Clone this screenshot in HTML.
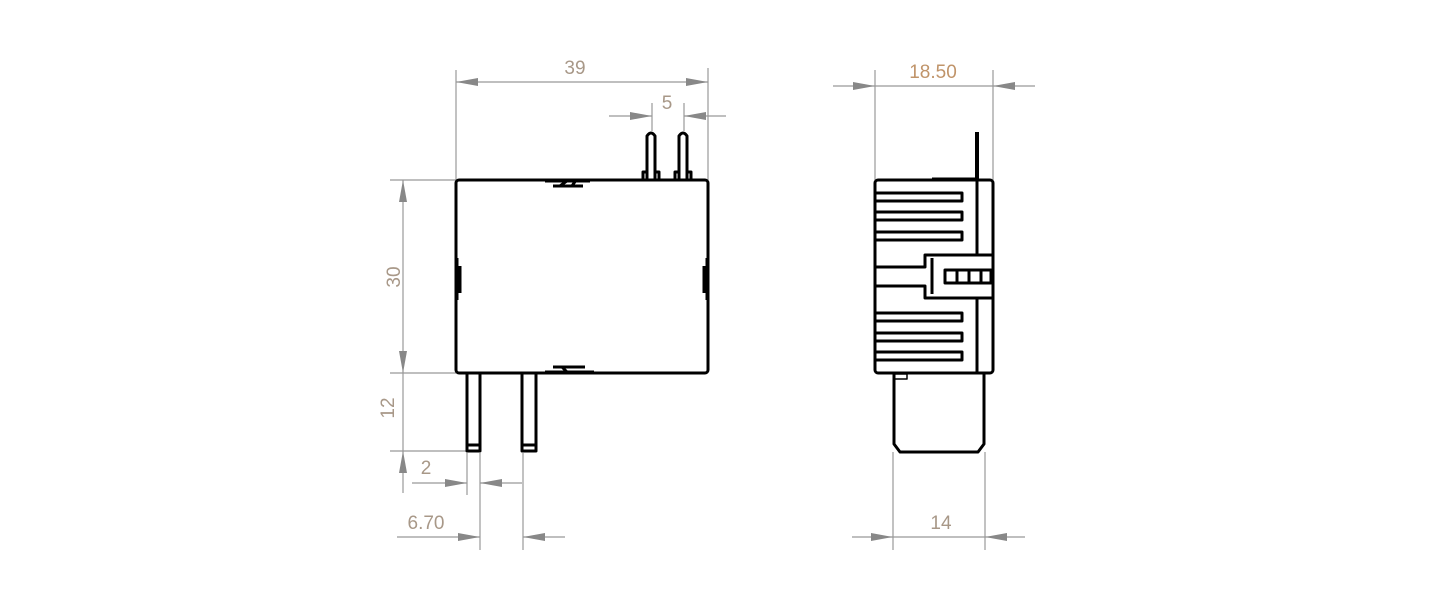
<!DOCTYPE html>
<html><head><meta charset="utf-8"><style>
html,body{margin:0;padding:0;background:#fff;width:1440px;height:600px;overflow:hidden}
svg{display:block}
text{font-family:"Liberation Sans",sans-serif;font-size:19px;fill:#a89888}
</style></head><body>
<svg width="1440" height="600" viewBox="0 0 1440 600" xmlns="http://www.w3.org/2000/svg">
<defs>
<marker id="a" viewBox="0 0 22 8" refX="22" refY="4" markerWidth="22" markerHeight="8" markerUnits="userSpaceOnUse" orient="auto"><path d="M0,0 L22,4 L0,8z" fill="#888"/></marker>
</defs>
<g stroke="#999" stroke-width="1.2" fill="none">
<!-- 39 -->
<line x1="456" y1="70" x2="456" y2="180"/><line x1="708" y1="68" x2="708" y2="180"/>
<line x1="480" y1="82" x2="456" y2="82" marker-end="url(#a)"/><line x1="480" y1="82" x2="708" y2="82" marker-end="url(#a)"/>
<!-- 5 -->
<line x1="652" y1="103" x2="652" y2="131"/><line x1="684" y1="103" x2="684" y2="131"/>
<line x1="609" y1="116" x2="652" y2="116" marker-end="url(#a)"/><line x1="726" y1="116" x2="684" y2="116" marker-end="url(#a)"/>
<!-- 30 -->
<line x1="390" y1="180" x2="456" y2="180"/><line x1="390" y1="373" x2="456" y2="373"/><line x1="390" y1="451" x2="467" y2="451"/>
<line x1="403" y1="280" x2="403" y2="180" marker-end="url(#a)"/><line x1="403" y1="280" x2="403" y2="373" marker-end="url(#a)"/>
<line x1="403" y1="373" x2="403" y2="373"/>
<line x1="403" y1="373" x2="403" y2="451"/>
<line x1="403" y1="493" x2="403" y2="451" marker-end="url(#a)"/>
<!-- 2 / 6.70 -->
<line x1="467" y1="453" x2="467" y2="495"/><line x1="480" y1="453" x2="480" y2="550"/><line x1="523" y1="453" x2="523" y2="550"/>
<line x1="412" y1="483" x2="467" y2="483" marker-end="url(#a)"/><line x1="522" y1="483" x2="480" y2="483" marker-end="url(#a)"/>
<line x1="397" y1="537" x2="480" y2="537" marker-end="url(#a)"/><line x1="565" y1="537" x2="523" y2="537" marker-end="url(#a)"/>
<!-- 18.50 -->
<line x1="875" y1="70" x2="875" y2="180"/><line x1="993" y1="70" x2="993" y2="180"/>
<line x1="833" y1="86" x2="875" y2="86" marker-end="url(#a)"/><line x1="1035" y1="86" x2="993" y2="86" marker-end="url(#a)"/>
<line x1="875" y1="86" x2="993" y2="86"/>
<!-- 14 -->
<line x1="893" y1="452" x2="893" y2="550"/><line x1="985" y1="452" x2="985" y2="550"/>
<line x1="852" y1="537" x2="893" y2="537" marker-end="url(#a)"/><line x1="1025" y1="537" x2="985" y2="537" marker-end="url(#a)"/>
<line x1="893" y1="537" x2="985" y2="537"/>
</g>
<text x="575" y="74" text-anchor="middle">39</text>
<text x="667" y="109" text-anchor="middle">5</text>
<text x="0" y="0" text-anchor="middle" transform="translate(400,277) rotate(-90)">30</text>
<text x="0" y="0" text-anchor="middle" transform="translate(394,408) rotate(-90)">12</text>
<text x="426" y="474" text-anchor="middle">2</text>
<text x="426" y="529" text-anchor="middle">6.70</text>
<text x="933" y="78" text-anchor="middle" style="fill:#c0946a">18.50</text>
<text x="941" y="529" text-anchor="middle">14</text>
<g stroke="#000" stroke-width="3" fill="none" stroke-linejoin="round">
<rect x="456" y="180" width="252" height="193" rx="3"/>
<!-- notches -->
<path d="M545,181 L590,181 M553,186 L583,186 M560,186 L568,180 M576,180 L572,186"/>
<path d="M545,372 L594,372 M553,367 L585,367 M562,367 L568,373"/>
<path d="M457,258 L457,300 M460,266 L460,293"/>
<path d="M707,258 L707,300 M704,266 L704,293"/>
<!-- top pins -->
<path d="M647,179 L647,136 Q651,130 655,136 L655,179 M643,180 L643,172 L647,172 M655,172 L659,172 L659,180"/>
<path d="M679,179 L679,136 Q683,130 687,136 L687,179 M675,180 L675,172 L679,172 M687,172 L691,172 L691,180"/>
<!-- bottom pins -->
<rect x="467" y="373" width="13" height="78"/><line x1="467" y1="445" x2="480" y2="445"/>
<rect x="522" y="373" width="14" height="78"/><line x1="522" y1="445" x2="536" y2="445"/>
<!-- side view -->
<rect x="875" y="180" width="118" height="193" rx="3"/>
<line x1="977" y1="180" x2="977" y2="255"/><line x1="977" y1="298" x2="977" y2="373"/>
<line x1="977" y1="132" x2="977" y2="180" stroke-width="4"/>
<line x1="932" y1="179" x2="977" y2="179"/>
<path d="M876,193 L962,193 L962,201 L876,201 M876,212 L962,212 L962,220 L876,220 M876,232 L962,232 L962,240 L876,240"/>
<path d="M876,313 L962,313 L962,321 L876,321 M876,333 L962,333 L962,341 L876,341 M876,352 L962,352 L962,360 L876,360"/>
<path d="M993,255 L925,255 L925,267 L876,267 M876,286 L925,286 L925,298 L993,298 M932,258 L932,294"/>
<rect x="945" y="270" width="46" height="13"/><line x1="957" y1="270" x2="957" y2="283"/><line x1="969" y1="270" x2="969" y2="283"/><line x1="981" y1="270" x2="981" y2="283"/>
<path d="M894,374 L894,444 L900,452 L978,452 L984,444 L984,374"/>
<rect x="894" y="374" width="13" height="5" stroke-width="1.5"/>
</g>
</svg>
</body></html>
